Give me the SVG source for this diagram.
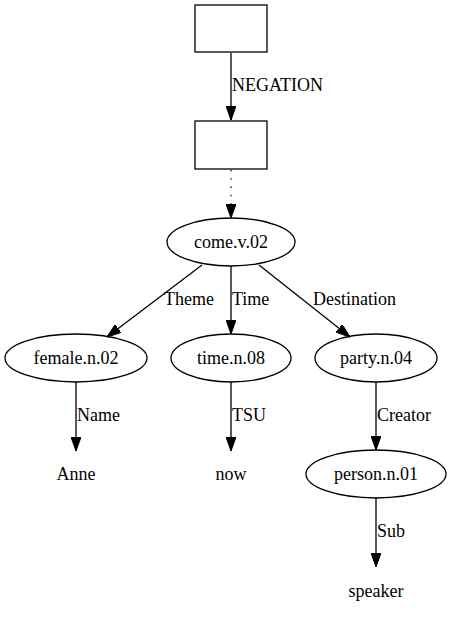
<svg xmlns="http://www.w3.org/2000/svg" width="451" height="620" viewBox="0 0 451 620">
<style>
text{font-family:"Liberation Serif","Times New Roman",serif;font-size:18px;fill:#000}
.n{fill:none;stroke:#000;stroke-width:1.3}
.e{fill:none;stroke:#000;stroke-width:1.3}
.d{stroke-dasharray:1.3,7}
.m{text-anchor:middle}
</style>
<defs>
<marker id="ah" viewBox="0 0 14 10" refX="14" refY="5" markerWidth="14" markerHeight="10" markerUnits="userSpaceOnUse" orient="auto">
<polygon points="0,0 14,5 0,10" fill="#000" stroke="#000" stroke-width="1"/>
</marker>
</defs>
<rect width="451" height="620" fill="#fff"/>
<g id="connectors">
<line class="e" x1="231" y1="53" x2="231" y2="120" marker-end="url(#ah)"/>
<text x="232" y="91">NEGATION</text>
<line class="e d" x1="231" y1="170" x2="231" y2="218" marker-end="url(#ah)"/>
<line class="e" x1="202" y1="265" x2="107" y2="337" marker-end="url(#ah)"/>
<text x="164" y="305">Theme</text>
<line class="e" x1="231" y1="266" x2="231" y2="334" marker-end="url(#ah)"/>
<text x="232" y="305">Time</text>
<line class="e" x1="259" y1="265" x2="350" y2="337" marker-end="url(#ah)"/>
<text x="313" y="305">Destination</text>
<line class="e" x1="76" y1="382" x2="76" y2="451" marker-end="url(#ah)"/>
<text x="77" y="421">Name</text>
<line class="e" x1="231" y1="382" x2="231" y2="451" marker-end="url(#ah)"/>
<text x="232" y="421">TSU</text>
<line class="e" x1="376" y1="382" x2="376" y2="450" marker-end="url(#ah)"/>
<text x="377" y="421">Creator</text>
<line class="e" x1="376" y1="498" x2="376" y2="567" marker-end="url(#ah)"/>
<text x="377" y="537">Sub</text>
</g>
<g id="box1"><rect class="n" x="195" y="5" width="72" height="47"/></g>
<g id="box2"><rect class="n" x="195" y="121" width="72" height="48"/></g>
<g id="come"><ellipse class="n" cx="231" cy="242" rx="64" ry="24"/><text class="m" x="231" y="248">come.v.02</text></g>
<g id="female"><ellipse class="n" cx="76" cy="358" rx="71" ry="24"/><text class="m" x="76" y="364">female.n.02</text></g>
<g id="time"><ellipse class="n" cx="231" cy="358" rx="60" ry="24"/><text class="m" x="231" y="364">time.n.08</text></g>
<g id="party"><ellipse class="n" cx="376" cy="358" rx="61" ry="24"/><text class="m" x="376" y="364">party.n.04</text></g>
<g id="anne"><text class="m" x="76" y="480">Anne</text></g>
<g id="now"><text class="m" x="231" y="480">now</text></g>
<g id="person"><ellipse class="n" cx="376" cy="474" rx="70" ry="24"/><text class="m" x="376" y="480">person.n.01</text></g>
<g id="speaker"><text class="m" x="376" y="597">speaker</text></g>
</svg>
